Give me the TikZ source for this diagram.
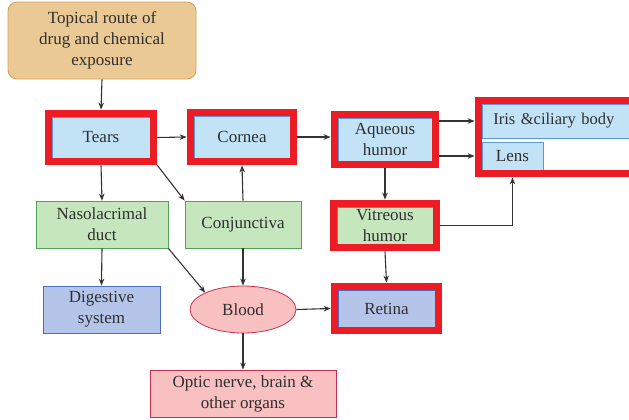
\documentclass[tikz,border=0pt]{standalone}
\usepackage{fontspec}
\setmainfont{Liberation Serif}
\usetikzlibrary{shapes.geometric,arrows.meta,fit}
\definecolor{tanfill}{HTML}{EAC994}
\definecolor{tanline}{HTML}{D9A45A}
\definecolor{bluefill}{HTML}{C2E2F6}
\definecolor{blueline}{HTML}{5B9BD5}
\definecolor{greenfill}{HTML}{C6E6BE}
\definecolor{greenline}{HTML}{4FA455}
\definecolor{purplefill}{HTML}{B5C5EA}
\definecolor{purpleline}{HTML}{4C6BC2}
\definecolor{pinkfill}{HTML}{F8C0C0}
\definecolor{pinkline}{HTML}{C7304F}
\definecolor{framered}{HTML}{ED1C24}
\definecolor{txt}{HTML}{2F2F2F}
\definecolor{arrowc}{HTML}{333333}
\begin{document}
\begin{tikzpicture}[x=1pt,y=-1pt,
  every node/.style={font=\fontsize{17}{21}\selectfont, text=txt, align=center, inner sep=0pt},
  basebox/.style={rectangle, line width=0.8pt},
  bluebox/.style={basebox, fill=bluefill, draw=blueline},
  greenbox/.style={basebox, fill=greenfill, draw=greenline},
  purplebox/.style={basebox, fill=purplefill, draw=purpleline},
  pinkbox/.style={basebox, fill=pinkfill, draw=pinkline},
  redframe/.style={draw=framered, line width=7pt, fit=#1, inner sep=3.5pt, rectangle},
  arr/.style={draw=arrowc, line width=1.1pt, -{Stealth[length=7pt,width=5.5pt]}}
]
\useasboundingbox (0,0) rectangle (629,420);

\node[rectangle, rounded corners=9pt, fill=tanfill, draw=tanline, line width=0.9pt,
  minimum width=188pt, minimum height=77pt] (top) at (102,40.5)
  {Topical route of\\drug and chemical\\exposure};

\node[bluebox, minimum width=98pt, minimum height=41pt] (tears) at (101,137.5) {Tears};
\node[redframe=(tears)] (tearsF) {};

\node[bluebox, minimum width=96pt, minimum height=42pt] (cornea) at (242,137) {Cornea};
\node[redframe=(cornea)] (corneaF) {};

\node[bluebox, minimum width=94pt, minimum height=43pt] (aq) at (385,139.5) {Aqueous\\humor};
\node[redframe=(aq)] (aqF) {};

\node[greenbox, minimum width=132pt, minimum height=47pt] (naso) at (102,224.5) {Nasolacrimal\\duct};
\node[greenbox, minimum width=116pt, minimum height=47pt] (conj) at (243,224.5) {Conjunctiva};

\node[greenbox, minimum width=96pt, minimum height=37pt] (vit) at (385,225.5) {Vitreous\\humor};
\node[redframe=(vit)] (vitF) {};

\node[purplebox, minimum width=117pt, minimum height=47pt] (dig) at (101.5,309.5) {Digestive\\system};
\node[ellipse, fill=pinkfill, draw=pinkline, line width=0.8pt, minimum width=106pt, minimum height=47pt] (blood) at (243,309.5) {Blood};

\node[purplebox, minimum width=97pt, minimum height=37pt] (ret) at (386.5,308.5) {Retina};
\node[redframe=(ret)] (retF) {};

\node[pinkbox, minimum width=186pt, minimum height=47pt] (optic) at (243,393.5) {Optic nerve, brain \&\\other organs};

\node[bluebox, anchor=west, minimum height=34pt, text width=140pt, inner xsep=11pt, align=left,
  font=\fontsize{16.5}{19}\selectfont] (iris) at (482,121) {Iris \&ciliary body};
\node[bluebox, minimum width=61pt, minimum height=28pt] (lens) at (512.5,156) {Lens};
\node[redframe=(iris)(lens)] (irisF) {};

\draw[arr] (top.south) -- (tearsF.north);
\draw[arr] (tearsF.east) -- (corneaF.west);
\draw[arr] (corneaF.east) -- (corneaF.east -| aqF.west);
\draw[arr] (aqF.east |- iris) -- (iris -| irisF.west);
\draw[arr] (aqF.east |- lens) -- (lens -| irisF.west);
\draw[arr] (aqF.south) -- (vitF.north);
\draw[arr] (vitF.east) -| (lens.south |- irisF.south);
\draw[arr] (vitF.south) -- (retF.north);
\draw[arr] (tearsF.south) -- (naso.north);
\draw[arr] (tearsF.south east) -- (conj.north west);
\draw[arr] (conj.north) -- (corneaF.south);
\draw[arr] (conj.south) -- (blood.north);
\draw[arr] (naso.south) -- (dig.north);
\draw[arr] (naso.south east) -- (blood.north west);
\draw[arr] (blood.east) -- (retF.west);
\draw[arr] (blood.south) -- (optic.north);
\end{tikzpicture}
\end{document}
